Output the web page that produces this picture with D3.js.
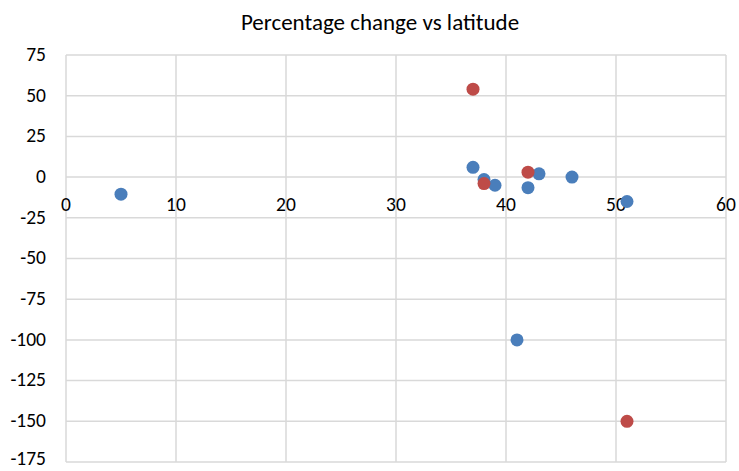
<!DOCTYPE html>
<html>
<head>
<meta charset="utf-8">
<script src="https://cdn.jsdelivr.net/npm/d3@7"></script>
<style>
  body { margin: 0; background: #fff; }
  text { font-family: Calibri, Carlito, "Open Sans", "Liberation Sans", sans-serif; }
</style>
</head>
<body>
<div id="wrapper"></div>
<script>
const blueLat = [5, 37, 38, 39, 41, 42, 43, 46, 51]
const blueChange = [-10.5, 6, -1.5, -5, -100, -6.5, 2, 0, -15]
const redLat = [37, 38, 42, 51]
const redChange = [54, -4, 3, -150]
const xTicks = [0, 10, 20, 30, 40, 50, 60]
const yTicks = [75, 50, 25, 0, -25, -50, -75, -100, -125, -150, -175]

let dimensions = {
  width: 739,
  height: 471,
  margin: { top: 55, right: 13, bottom: 9, left: 66 }
}
dimensions.boundedWidth = dimensions.width - dimensions.margin.left - dimensions.margin.right
dimensions.boundedHeight = dimensions.height - dimensions.margin.top - dimensions.margin.bottom

const svg = d3.select("#wrapper")
  .append("svg")
    .attr("width", dimensions.width)
    .attr("height", dimensions.height)

const bounds = svg.append("g")
    .attr("transform", `translate(${dimensions.margin.left},${dimensions.margin.top})`)

const xScale = d3.scaleLinear()
    .domain([0, 60])
    .range([0, dimensions.boundedWidth])

const yScale = d3.scaleLinear()
    .domain([-175, 75])
    .range([dimensions.boundedHeight, 0])

const gridColor = "#d9d9d9"

// gridlines
bounds.append("g")
  .selectAll("line")
  .data(yTicks)
  .join("line")
    .attr("x1", 0)
    .attr("x2", dimensions.boundedWidth)
    .attr("y1", d => yScale(d))
    .attr("y2", d => yScale(d))
    .attr("stroke", gridColor)
    .attr("stroke-width", 1.5)

bounds.append("g")
  .selectAll("line")
  .data(xTicks)
  .join("line")
    .attr("x1", d => xScale(d))
    .attr("x2", d => xScale(d))
    .attr("y1", 0)
    .attr("y2", dimensions.boundedHeight)
    .attr("stroke", gridColor)
    .attr("stroke-width", 1.5)

// y labels (bottom one nudged up so it stays on the page)
bounds.append("g")
  .selectAll("text")
  .data(yTicks)
  .join("text")
    .attr("x", -20)
    .attr("y", d => Math.min(yScale(d), dimensions.boundedHeight - 3))
    .attr("dy", "0.3em")
    .attr("text-anchor", "end")
    .attr("font-size", 19.5)
    .attr("fill", "#000")
    .text(d => d)

// x labels sit under the zero line
bounds.append("g")
  .selectAll("text")
  .data(xTicks)
  .join("text")
    .attr("x", d => xScale(d))
    .attr("y", yScale(0) + 27)
    .attr("dy", "0.35em")
    .attr("text-anchor", "middle")
    .attr("font-size", 19.5)
    .attr("fill", "#000")
    .text(d => d)

const blue = blueLat.map((d, i) => ({ lat: d, change: blueChange[i] }))
const red = redLat.map((d, i) => ({ lat: d, change: redChange[i] }))

bounds.append("g")
  .selectAll("circle")
  .data(blue)
  .join("circle")
    .attr("cx", d => xScale(d.lat))
    .attr("cy", d => yScale(d.change))
    .attr("r", 6.5)
    .attr("fill", "#4a7ebb")

bounds.append("g")
  .selectAll("circle")
  .data(red)
  .join("circle")
    .attr("cx", d => xScale(d.lat))
    .attr("cy", d => yScale(d.change))
    .attr("r", 6.5)
    .attr("fill", "#be4b48")

svg.append("text")
    .attr("x", 380)
    .attr("y", 30)
    .attr("text-anchor", "middle")
    .attr("font-size", 23)
    .attr("fill", "#000")
    .text("Percentage change vs latitude")
</script>
</body>
</html>
